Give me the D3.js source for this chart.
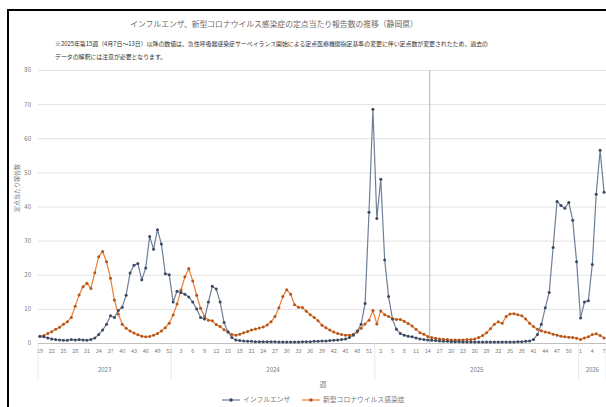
<!DOCTYPE html>
<html>
<head>
<meta charset="utf-8">
<script src="https://cdn.jsdelivr.net/npm/d3@7"></script>
<style>
  body { margin: 0; background: #fff; }
  text { font-family: "Noto Sans CJK JP", "Noto Sans", sans-serif; }
</style>
</head>
<body>
<div id="chart"></div>
<script>
// year groups of the category axis
var years = ["2023", "2024", "2025", "2026"];
var firstWeek = [19, 1, 1, 1];
var lastWeek = [52, 52, 52, 7];

// reports per sentinel site, one value per week
var influenza = [
  2.0, 1.8, 1.5, 1.2, 1.0, 0.9, 0.8, 0.8, 1.0, 0.9,
  1.0, 0.9, 0.8, 1.0, 1.5, 2.5, 3.8, 5.5, 8.0, 7.5,
  9.5, 10.5, 14.0, 20.5, 22.8, 23.3, 18.5, 22.0, 31.2, 27.5,
  33.2, 29.0, 20.3, 20.0,
  12.0, 15.2, 14.8, 14.3, 13.5, 12.0, 10.0, 7.5, 7.0, 12.0,
  16.6, 15.8, 12.0, 6.0, 3.2, 1.6, 0.9,
  0.7, 0.6, 0.5, 0.5, 0.4, 0.4, 0.4, 0.4, 0.4, 0.4,
  0.3, 0.3, 0.3, 0.3, 0.3, 0.3, 0.4, 0.4, 0.4,
  0.5, 0.5, 0.6, 0.6, 0.7, 0.8, 0.9, 1.0, 1.2,
  1.6, 2.3, 3.5, 5.5, 11.6, 38.3, 68.5, 36.5, 48.0, 24.3,
  13.6, 7.0, 4.0, 2.8, 2.3, 2.0, 1.8, 1.5, 1.2, 1.0, 0.9,
  0.8, 0.7, 0.6, 0.5, 0.5, 0.4, 0.4, 0.4, 0.3, 0.3,
  0.3, 0.3, 0.3, 0.3, 0.3, 0.3, 0.3, 0.3, 0.3, 0.3,
  0.3, 0.3, 0.4, 0.4, 0.5, 0.6, 1.0,
  2.5, 5.5, 10.3, 14.8, 28.0, 41.5, 40.3, 39.5, 41.2, 36.0,
  23.8, 7.3, 12.0, 12.4, 23.0, 43.6, 56.5, 44.2
];

var covid = [
  1.9, 2.2, 2.8, 3.3, 4.0, 4.6, 5.5, 6.2, 7.5, 10.8,
  14.1, 16.5, 17.5, 16.0, 20.6, 25.3, 26.8, 23.8, 19.0, 12.6,
  8.5, 5.5, 4.3, 3.5, 2.9, 2.4, 2.0, 1.8, 1.9, 2.3,
  2.8, 3.5, 4.5, 5.8,
  8.2, 11.4, 15.5, 19.4, 21.8, 18.2, 14.0, 10.2, 7.8, 6.7,
  6.5, 5.4, 4.8, 3.9, 3.3, 2.5, 2.3, 2.6, 3.0, 3.4,
  3.8, 4.1, 4.4, 4.7, 5.3, 6.2, 7.8, 10.3, 13.6, 15.6,
  14.3, 11.2, 10.5, 10.4, 9.3, 8.3, 7.5, 6.5,
  5.2, 4.5, 3.8, 3.2, 2.8, 2.5, 2.3, 2.3, 2.6, 3.2,
  4.3, 5.6, 6.7, 9.5, 5.6, 9.4, 8.3, 7.8, 7.1, 6.9,
  6.9, 6.4, 5.7, 5.0, 4.0, 3.0, 2.6, 1.9,
  1.6, 1.4, 1.2, 1.1, 1.0, 0.9, 0.9, 0.9, 0.9, 1.0,
  1.0, 1.2, 1.6, 2.2, 3.0, 4.2, 5.5, 6.2, 5.8, 7.8,
  8.5, 8.6, 8.3, 8.0, 7.0, 5.8, 4.8, 4.0, 3.6, 3.2,
  3.0, 2.6, 2.3, 2.0, 1.8, 1.7, 1.6, 1.4, 1.0, 1.5,
  1.8, 2.5, 2.7, 2.2, 1.5
];

var yTicks = [0, 10, 20, 30, 40, 50, 60, 70, 80];
var seriesNames = ["インフルエンザ", "新型コロナウイルス感染症"];
var title = "インフルエンザ、新型コロナウイルス感染症の定点当たり報告数の推移（静岡県）";
var note = ["※2025年第15週（4月7日～13日）以降の数値は、急性呼吸器感染症サーベイランス開始による定点医療機関指定基準の変更に伴い定点数が変更されたため、過去の",
            "データの解釈には注意が必要となります。"];
var markWeek = 100; // 2025 week 15

// build the categories from the year groups
var weeks = [], groups = [];
years.forEach(function (yr, k) {
  var start = weeks.length;
  for (var w = firstWeek[k]; w <= lastWeek[k]; w++) weeks.push(w);
  groups.push({ year: yr, start: start, end: weeks.length });
});

var W = 606, H = 407;
var plotL = 38, plotR = 606, plotT = 70, plotB = 343;

var svg = d3.select("#chart").append("svg")
    .attr("width", W)
    .attr("height", H);

svg.append("rect").attr("width", W).attr("height", H).attr("fill", "#fff");
svg.append("rect")
    .attr("x", 8).attr("y", 10).attr("width", 640).attr("height", 440)
    .attr("fill", "#fff").attr("stroke", "#000").attr("stroke-width", 2);

var x = d3.scaleBand()
    .domain(d3.range(weeks.length))
    .range([plotL, plotR])
    .paddingInner(0).paddingOuter(0);
var bw = x.bandwidth();

var y = d3.scaleLinear()
    .domain([0, 80])
    .range([plotB, plotT]);

// gridlines + y labels
var yAxis = svg.append("g")
    .attr("transform", "translate(" + plotL + ",0)")
    .call(d3.axisLeft(y).tickValues(yTicks).tickSize(-(plotR - plotL)).tickPadding(7));
yAxis.select(".domain").remove();
yAxis.selectAll(".tick line").attr("stroke", function (d) { return d === 0 ? "#bfbfbf" : "#e3e3e3"; });
yAxis.selectAll(".tick text").attr("fill", "#7a7a7a").style("font-size", "6px");

// week labels
var xAxis = svg.append("g")
    .attr("transform", "translate(0," + plotB + ")")
    .call(d3.axisBottom(x)
      .tickValues(d3.range(0, weeks.length, 3))
      .tickFormat(function (i) { return weeks[i]; })
      .tickSize(0).tickPadding(6));
xAxis.select(".domain").remove();
xAxis.selectAll(".tick text").attr("fill", "#7a7a7a").style("font-size", "5.5px");

// year group separators and labels
var sep = groups.map(function (g) { return g.start; }).concat([weeks.length]);
svg.selectAll(".sep").data(sep).enter().append("line")
    .attr("class", "sep")
    .attr("x1", function (i) { return i < weeks.length ? x(i) : plotR; })
    .attr("x2", function (i) { return i < weeks.length ? x(i) : plotR; })
    .attr("y1", plotB).attr("y2", 380)
    .attr("stroke", "#e3e3e3").attr("stroke-width", 0.8);

svg.selectAll(".year").data(groups).enter().append("text")
    .attr("class", "year")
    .attr("x", function (g) { return x(g.start) + (g.end - g.start) * bw / 2; })
    .attr("y", 372)
    .attr("text-anchor", "middle")
    .attr("fill", "#7a7a7a")
    .style("font-size", "6px")
    .text(function (g) { return g.year; });

// marker line for the definition change
svg.append("line")
    .attr("x1", x(markWeek)).attr("x2", x(markWeek))
    .attr("y1", plotT).attr("y2", plotB)
    .attr("stroke", "#b4b4b4").attr("stroke-width", 1);

// series
var line = d3.line()
    .x(function (d, i) { return x(i) + bw / 2; })
    .y(function (d) { return y(d); });

var series = [
  { name: seriesNames[0], values: influenza, stroke: "#6f7f98", dot: "#3c4a5f" },
  { name: seriesNames[1], values: covid, stroke: "#ed7d31", dot: "#b5561c" }
];

series.slice().reverse().forEach(function (s) {
  svg.append("path")
      .datum(s.values)
      .attr("fill", "none")
      .attr("stroke", s.stroke)
      .attr("stroke-width", 1.2)
      .attr("d", line);
  svg.append("g").selectAll("circle")
      .data(s.values)
    .enter().append("circle")
      .attr("cx", function (d, i) { return x(i) + bw / 2; })
      .attr("cy", function (d) { return y(d); })
      .attr("r", 1.5)
      .attr("fill", s.dot);
});

// titles
svg.append("text")
    .attr("x", 274).attr("y", 27)
    .attr("text-anchor", "middle")
    .attr("fill", "#6a6a6a")
    .style("font-size", "7.8px")
    .text(title);

svg.selectAll(".note").data(note).enter().append("text")
    .attr("class", "note")
    .attr("x", 55)
    .attr("y", function (d, i) { return 45.5 + i * 13; })
    .attr("fill", "#303030")
    .style("font-size", "5.9px")
    .text(function (d) { return d; });

svg.append("text")
    .attr("transform", "translate(19,188) rotate(-90)")
    .attr("text-anchor", "middle")
    .attr("fill", "#7a7a7a")
    .style("font-size", "6px")
    .text("定点当たり報告数");

svg.append("text")
    .attr("x", 323).attr("y", 387)
    .attr("text-anchor", "middle")
    .attr("fill", "#7a7a7a")
    .style("font-size", "7px")
    .text("週");

// legend
var legX = [222, 302];
var leg = svg.selectAll(".leg").data(series).enter().append("g")
    .attr("class", "leg")
    .attr("transform", function (d, i) { return "translate(" + legX[i] + ",400)"; });
leg.append("line")
    .attr("x1", 0).attr("x2", 18)
    .attr("stroke", function (d) { return d.stroke; })
    .attr("stroke-width", 1.2);
leg.append("circle")
    .attr("cx", 9).attr("r", 1.8)
    .attr("fill", function (d) { return d.dot; });
leg.append("text")
    .attr("x", 21).attr("y", 2.3)
    .attr("fill", "#7a7a7a")
    .style("font-size", "6.8px")
    .text(function (d) { return d.name; });
</script>
</body>
</html>
